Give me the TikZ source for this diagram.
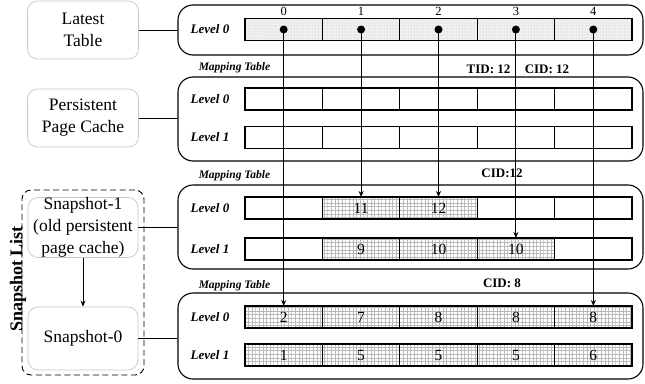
\documentclass[tikz,border=0pt]{standalone}
\usepackage{fontspec}
\setmainfont{Liberation Serif}
\usetikzlibrary{patterns,patterns.meta,arrows.meta}
\tikzdeclarepattern{
  name=mygrid,
  type=uncolored,
  bottom left={(-0.3pt,-0.3pt)},
  top right={(3.9pt,3.9pt)},
  tile size={(3.6pt,3.6pt)},
  code={
    \pgfsetlinewidth{0.4pt}
    \pgfpathmoveto{\pgfqpoint{0pt}{0pt}}\pgfpathlineto{\pgfqpoint{3.6pt}{0pt}}
    \pgfpathmoveto{\pgfqpoint{0pt}{0pt}}\pgfpathlineto{\pgfqpoint{0pt}{3.6pt}}
    \pgfusepath{stroke}
  }
}
\newcommand\cellrow[3]{%
  \foreach \s/\v [count=\i from 0] in {#3} {
    \node[cell,\s] (#1c\i) at ({283.7+77.4*\i},#2) {\v};
  }}
\begin{document}
\begin{tikzpicture}[x=1pt,y=-1pt,
  sbox/.style={draw=gray!45, rounded corners=10pt, line width=0.7pt, align=center,
    font=\fontsize{17.5}{22}\selectfont, inner sep=0, minimum width=111pt},
  mt/.style={draw, line width=1.1pt, rounded corners=15pt, minimum width=465pt, inner sep=0},
  cell/.style={draw, line width=1.1pt, minimum width=77.4pt, minimum height=22pt,
    inner sep=0, outer sep=0, font=\fontsize{15.5}{15.5}\selectfont},
  emp/.style={fill=white},
  grd/.style={pattern=mygrid, pattern color=gray!55},
  dtf/.style={preaction={fill=gray!12}, pattern=dots, pattern color=gray!55},
  lvl/.style={font=\fontsize{13}{13}\selectfont\bfseries\itshape},
  mtl/.style={font=\fontsize{11.5}{11.5}\selectfont\bfseries\itshape},
  idl/.style={font=\fontsize{13}{13}\selectfont\bfseries},
  num/.style={font=\fontsize{12.5}{12.5}\selectfont},
  dot/.style={circle, fill=black, minimum size=8pt, inner sep=0},
  conn/.style={line width=1pt},
  arr/.style={line width=1pt, -{Stealth[length=6pt,width=5pt]}}
]
\useasboundingbox (0,0) rectangle (645,383);

% left side boxes
\node[sbox, minimum height=58pt] (lt) at (83,30) {Latest\\Table};
\node[sbox, minimum height=58pt] (ppc) at (83,118) {Persistent\\Page Cache};
\node[draw, dash pattern=on 6pt off 3.5pt, line width=0.9pt, rounded corners=9pt, minimum width=122pt,
  minimum height=185pt] (sl) at (83,282.5) {};
\node[sbox, minimum width=110pt, minimum height=59pt] (s1) at (83,227.5)
  {Snapshot-1\\(old persistent\\page cache)};
\node[sbox, minimum width=110pt, minimum height=63pt] (s0) at (83,338.5) {Snapshot-0};
\node[rotate=90, font=\fontsize{18}{18}\selectfont\bfseries] (sll) at (18,279) {Snapshot List};
\draw[arr] (s1.south) -- (s0.north);

% mapping tables
\node[mt, minimum height=50pt] (mt1) at (410.5,30) {};
\node[mt, minimum height=84pt] (mt2) at (410.5,119) {};
\node[mt, minimum height=84pt] (mt3) at (410.5,227) {};
\node[mt, minimum height=86pt] (mt4) at (410.5,336) {};

\draw[conn] (lt.east) -- (lt.east -| mt1.west);
\draw[conn] (ppc.east) -- (ppc.east -| mt2.west);
\draw[conn] (s1.east) -- (s1.east -| mt3.west);
\draw[conn] (s0.east) -- (s0.east -| mt4.west);

% level labels
\node[lvl] (l1a) at (210,29.5) {Level 0};
\node[lvl] (l2a) at (210,99) {Level 0};
\node[lvl] (l2b) at (210,137.5) {Level 1};
\node[lvl] (l3a) at (210,208) {Level 0};
\node[lvl] (l3b) at (210,249) {Level 1};
\node[lvl] (l4a) at (210,317) {Level 0};
\node[lvl] (l4b) at (210,355) {Level 1};

% rows
\cellrow{tA0}{29.5}{dtf/{},dtf/{},dtf/{},dtf/{},dtf/{}}
\cellrow{tB0}{99}{emp/{},emp/{},emp/{},emp/{},emp/{}}
\cellrow{tB1}{137.5}{emp/{},emp/{},emp/{},emp/{},emp/{}}
\cellrow{tC0}{208}{emp/{},grd/11,grd/12,emp/{},emp/{}}
\cellrow{tC1}{249}{emp/{},grd/9,grd/10,grd/10,emp/{}}
\cellrow{tD0}{317}{grd/2,grd/7,grd/8,grd/8,grd/8}
\cellrow{tD1}{355}{grd/1,grd/5,grd/5,grd/5,grd/6}

% column numbers
\foreach \i in {0,...,4} {
  \node[num] (n\i) at ({283.7+77.4*\i},11) {\i};
}

% table labels
\node[mtl] (m1) at (234.5,68) {Mapping Table};
\node[mtl] (m2) at (234.5,176) {Mapping Table};
\node[mtl] (m3) at (234.5,286) {Mapping Table};
\node[idl] (tid) at (488.5,69) {TID: 12};
\node[idl] (cid1) at (547,69) {CID: 12};
\node[idl] (cid2) at (502,173) {CID:12};
\node[idl] (cid3) at (502,283) {CID: 8};

% dots and arrows
\foreach \i in {0,...,4} {
  \node[dot] (d\i) at (tA0c\i) {};
}
\draw[arr] (d0.center) -- (tD0c0.north);
\draw[arr] (d1.center) -- (tC0c1.north);
\draw[arr] (d2.center) -- (tC0c2.north);
\draw[arr] (d3.center) -- (tC1c3.north);
\draw[arr] (d4.center) -- (tD0c4.north);
\end{tikzpicture}
\end{document}
